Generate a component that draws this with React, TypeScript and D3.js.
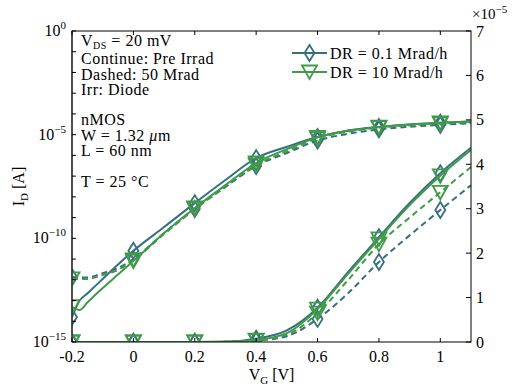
import React from "react";
import * as d3 from "d3";

const xs = [-0.2, -0.175, -0.15, -0.1, -0.05, 0, 0.1, 0.2, 0.3, 0.4, 0.5, 0.6, 0.7, 0.8, 0.9, 1.0, 1.1];

// Drain current [A]
const tealPre = [1.6e-14, 1e-13, 2.2e-13, 1.1e-12, 5.5e-12, 2.5e-11, 3.5e-10, 5e-9, 6.5e-8, 7.4e-7, 2.6e-6, 7.7e-6, 1.58e-5, 2.36e-5, 3.13e-5, 3.8e-5, 4.37e-5];
const greenPre = [5e-14, 3.5e-14, 8e-14, 4e-13, 1.8e-12, 8e-12, 1.8e-10, 2.9e-9, 3.7e-8, 4.3e-7, 2.0e-6, 7.4e-6, 1.54e-5, 2.32e-5, 3.08e-5, 3.74e-5, 4.32e-5];
const tealPost = [1.35e-12, 1.3e-12, 1.3e-12, 2.1e-12, 3.7e-12, 1e-11, 1.8e-10, 2.6e-9, 3e-8, 3.1e-7, 1.3e-6, 5.2e-6, 1.1e-5, 1.8e-5, 2.4e-5, 2.97e-5, 3.53e-5];
const greenPost = [1.1e-12, 1.1e-12, 1.1e-12, 1.7e-12, 3e-12, 9e-12, 1.6e-10, 2.6e-9, 3.2e-8, 3.4e-7, 1.6e-6, 6.5e-6, 1.4e-5, 2.2e-5, 2.8e-5, 3.37e-5, 3.94e-5];

const markerXs = [-0.2, 0, 0.2, 0.4, 0.6, 0.8, 1.0];

const xTicks = [-0.2, 0, 0.2, 0.4, 0.6, 0.8, 1];
const xTickLabels = ["-0.2", "0", "0.2", "0.4", "0.6", "0.8", "1"];
const logMajor = [0, -5, -10, -15];
const linTicks = [0, 1, 2, 3, 4, 5, 6, 7];

const TEAL = "#366f7f";
const GREEN = "#3f9b48";

const annot1 = ["Continue: Pre Irrad", "Dashed: 50 Mrad", "Irr: Diode"];
const legendLabels = ["DR = 0.1 Mrad/h", "DR = 10 Mrad/h"];

const W = 513, H = 387;
const L = 72, R = 471, T = 31, B = 342;

const x = d3.scaleLinear().domain([-0.2, 1.1]).range([L, R]);
const yLog = d3.scaleLog().domain([1e-15, 1]).range([B, T]);
const yLin = d3.scaleLinear().domain([0, 7e-5]).range([B, T]);

const diamond = "M0,-8L5,0L0,8L-5,0Z";
const triDown = "M-7.5,-6.5L7.5,-6.5L0,7Z";

const FONT = "'Liberation Serif', 'Times New Roman', serif";

type S = { vals: number[]; color: string; dashed: boolean; marker: string };
const series: S[] = [
  { vals: tealPre, color: TEAL, dashed: false, marker: diamond },
  { vals: tealPost, color: TEAL, dashed: true, marker: diamond },
  { vals: greenPre, color: GREEN, dashed: false, marker: triDown },
  { vals: greenPost, color: GREEN, dashed: true, marker: triDown },
];

function valAt(vals: number[], xv: number) {
  const i = xs.findIndex((v) => Math.abs(v - xv) < 1e-9);
  return vals[i];
}

export default function App() {
  const logLine = d3
    .line<number>()
    .x((_, i) => x(xs[i]))
    .y((v) => yLog(v))
    .curve(d3.curveMonotoneX);
  const linLine = d3
    .line<number>()
    .x((_, i) => x(xs[i]))
    .y((v) => yLin(v))
    .curve(d3.curveMonotoneX);

  const decades = d3.range(0, -16, -1);

  return (
    <svg width={W} height={H} style={{ position: "absolute", left: 0, top: 0, background: "#fff" }} fontFamily={FONT}>
      <defs>
        <clipPath id="plot">
          <rect x={L} y={T} width={R - L} height={B - T} />
        </clipPath>
      </defs>
      <g clipPath="url(#plot)">
        {series.map((s, k) => (
          <g key={k}>
            <path d={logLine(s.vals) || ""} fill="none" stroke={s.color} strokeWidth={2} strokeDasharray={s.dashed ? "6,4" : undefined} />
            <path d={linLine(s.vals) || ""} fill="none" stroke={s.color} strokeWidth={2} strokeDasharray={s.dashed ? "6,4" : undefined} />
            {markerXs.map((mx, j) => (
              <g key={j}>
                <path d={s.marker} transform={`translate(${x(mx)},${yLog(valAt(s.vals, mx))})`} fill="none" stroke={s.color} strokeWidth={1.8} />
                <path d={s.marker} transform={`translate(${x(mx)},${yLin(valAt(s.vals, mx))})`} fill="none" stroke={s.color} strokeWidth={1.8} />
              </g>
            ))}
          </g>
        ))}
      </g>

      {/* frame */}
      <rect x={L} y={T} width={R - L} height={B - T} fill="none" stroke="#000" strokeWidth={1} />
      <line x1={L} y1={T} x2={L} y2={B} stroke="#444" strokeWidth={1.6} />

      {/* x ticks */}
      {xTicks.map((t, i) => (
        <g key={i}>
          <line x1={x(t)} x2={x(t)} y1={B} y2={B - 4} stroke="#000" />
          <line x1={x(t)} x2={x(t)} y1={T} y2={T + 4} stroke="#000" />
          <text x={x(t)} y={362} textAnchor="middle" fontSize={16}>{xTickLabels[i]}</text>
        </g>
      ))}

      {/* left log ticks */}
      {decades.map((d) => (
        <line key={d} x1={L} x2={L + 4} y1={yLog(Math.pow(10, d))} y2={yLog(Math.pow(10, d))} stroke="#000" />
      ))}
      {logMajor.map((d) => (
        <text key={d} x={66} y={yLog(Math.pow(10, d)) + 5} textAnchor="end" fontSize={16}>
          10<tspan dy={-7} fontSize={11}>{d === 0 ? "0" : "\u2212" + Math.abs(d)}</tspan>
        </text>
      ))}

      {/* right linear ticks */}
      {linTicks.map((t) => (
        <g key={t}>
          <line x1={R} x2={R - 5} y1={yLin(t * 1e-5)} y2={yLin(t * 1e-5)} stroke="#000" />
          <text x={476} y={yLin(t * 1e-5) + 5.5} fontSize={16}>{t}</text>
        </g>
      ))}
      <text x={472} y={19} fontSize={15}>
        ×10<tspan dy={-6} fontSize={11}>{"\u22125"}</tspan>
      </text>

      {/* axis labels */}
      <text x={(L + R) / 2} y={380} textAnchor="middle" fontSize={16}>
        V<tspan dy={4} fontSize={11}>G</tspan><tspan dy={-4}> [V]</tspan>
      </text>
      <text transform={`translate(24,${(T + B) / 2}) rotate(-90)`} textAnchor="middle" fontSize={16}>
        I<tspan dy={4} fontSize={11}>D</tspan><tspan dy={-4}> [A]</tspan>
      </text>

      {/* annotation */}
      <g fontSize={16} letterSpacing={0.5}>
        <text x={81} y={46}>
          V<tspan dy={2.5} fontSize={10}>DS</tspan><tspan dy={-2.5}> = 20 mV</tspan>
        </text>
        {annot1.map((t, i) => (
          <text key={i} x={81} y={64 + i * 15.6}>{t}</text>
        ))}
        <text x={81} y={125}>nMOS</text>
        <text x={81} y={140.5}>
          W = 1.32 <tspan fontStyle="italic">μ</tspan>m
        </text>
        <text x={81} y={156}>L = 60 nm</text>
        <text x={81} y={187}>T = 25 °C</text>
      </g>

      {/* legend */}
      <g fontSize={16} letterSpacing={0.5}>
        <line x1={292} x2={327} y1={53} y2={53} stroke={TEAL} strokeWidth={2} />
        <path d={diamond} transform="translate(309.5,53)" fill="none" stroke={TEAL} strokeWidth={1.8} />
        <text x={330} y={58.5}>{legendLabels[0]}</text>
        <line x1={292} x2={327} y1={72} y2={72} stroke={GREEN} strokeWidth={2} />
        <path d={triDown} transform="translate(309.5,72)" fill="none" stroke={GREEN} strokeWidth={1.8} />
        <text x={330} y={77.5}>{legendLabels[1]}</text>
      </g>
    </svg>
  );
}
